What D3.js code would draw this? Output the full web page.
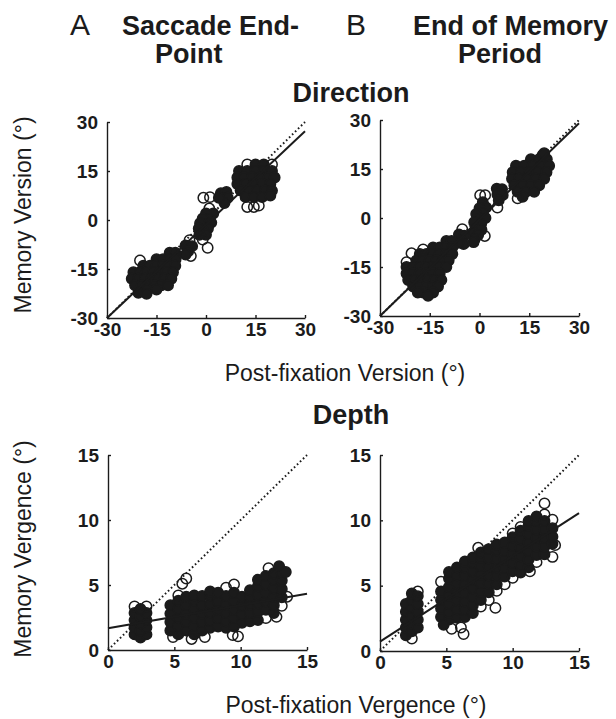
<!DOCTYPE html>
<html>

<head>
  <meta charset="utf-8">
  <title>Memory version and vergence vs post-fixation</title>
  <script src="https://cdn.jsdelivr.net/npm/d3@7/dist/d3.min.js"></script>
  <style>
    body { margin: 0; background: #fff; }
    svg { display: block; font-family: "Liberation Sans", Arial, Helvetica, sans-serif; }
  </style>
</head>

<body>
  <svg id="fig" width="616" height="719"></svg>

  <script>
    // tick values
    const dirTicks = [-30, -15, 0, 15, 30];
    const depTicks = [0, 5, 10, 15];

    // regression fits, [slope, intercept]
    const fitDirSaccade = [0.953, -1.4];
    const fitDirMemory = [0.983, -0.5];
    const fitDepSaccade = [0.177, 1.67];
    const fitDepMemory = [0.655, 0.72];

    // [post-fixation, memory] version, saccade end-point
    const dirSaccade = [
      [12.5, 17], [15, 17], [17.5, 17], [20, 17],
      [10, 15], [12.5, 15], [15, 15], [17.5, 15], [20, 15],
      [9.5, 13], [11.5, 13], [14, 13], [16.5, 13], [19, 13], [20.8, 13],
      [9.5, 11], [12, 11], [14.5, 11], [17, 11], [19.5, 11],
      [10.5, 9], [13, 9], [15.5, 9], [18, 9], [20, 9],
      [12, 7], [14.5, 7], [17, 7],
      [12.5, 4], [14.5, 4], [16, 4.4], [19.5, 7.5],
      [4.5, 8.2], [6.2, 8.6], [5, 6.6], [6.6, 6.8], [5.6, 5.2], [3.9, 6.8],
      [-0.8, 6.8], [1.2, 7],
      [1, 3.5], [2.2, 2], [0, 2], [1, 0.3], [-1, 0.5], [0, -1.2], [-1.8, -1], [1.6, -0.8],
      [0.6, -2.6], [-1, -3], [-2.2, -2.6], [0, -4.5], [-2, -4.5], [-1, -6], [0.5, -8.5],
      [-5, -6.2], [-6.2, -7.8], [-4.2, -8], [-5.4, -9.6], [-4.6, -11], [-6.2, -10.6],
      [-11, -10], [-9.3, -10],
      [-15, -12], [-13, -12], [-11, -12], [-9.2, -12],
      [-19, -14], [-17, -14], [-15, -14], [-13, -14], [-11, -14], [-9.3, -14],
      [-22, -16], [-20, -16], [-18, -16], [-16, -16], [-14, -16], [-12, -16], [-10, -16],
      [-22.5, -18], [-20.5, -18], [-18.5, -18], [-16.5, -18], [-14.5, -18], [-12.5, -18], [-10.5, -18],
      [-21.5, -20], [-19.5, -20], [-17.5, -20], [-15.5, -20], [-13.5, -20], [-11.5, -20],
      [-18, -21.3], [-15, -21.3],
      [-20, -12.4], [-20.5, -22.3], [-18, -22.6]
    ];

    // [post-fixation, memory] version, end of memory period
    const dirMemory = [
      [19, 19.2], [15.5, 18], [18, 18], [20.3, 18],
      [11, 16], [13.5, 16], [16, 16], [18.5, 16], [21, 16],
      [10, 14], [12.5, 14], [15, 14], [17.5, 14], [20.2, 14],
      [9.8, 12], [12, 12], [14.5, 12], [17, 12], [19.5, 12],
      [10.5, 10], [13, 10], [15.5, 10], [18, 10],
      [11.5, 8], [14, 8], [16.5, 8], [13, 6.5],
      [11.5, 6], [19.5, 19.8],
      [5.2, 9], [6.8, 8.8], [5.4, 7.2], [7, 7], [5.8, 5.4], [5.4, 3.2],
      [0.2, 7], [1.7, 7],
      [1, 4.8], [2, 3.2], [0, 3], [1, 1.5], [-1, 1.2], [0, -0.2], [1.8, 0], [-1.6, -1.3],
      [0.5, -1.8], [-1, -3.2], [0.6, -3.6], [-2, -4.6], [-0.4, -5.2], [-1.5, -6.5], [1.6, -5.5],
      [-1.8, -7.4],
      [-5.2, -3.4], [-6.2, -5], [-4.6, -5.4], [-5.6, -6.8], [-4.8, -8], [-6.4, -7.6],
      [-10, -7], [-8.4, -7],
      [-14, -9], [-12, -9], [-10, -9], [-8.2, -9],
      [-18, -11], [-16, -11], [-14, -11], [-12, -11], [-10, -11], [-8.2, -11],
      [-22, -13.5], [-19, -13], [-17, -13], [-15, -13], [-13, -13], [-11, -13], [-9.3, -13],
      [-22, -15], [-20, -15], [-18, -15], [-16, -15], [-14, -15], [-12, -15], [-10, -15],
      [-22, -17], [-20, -17], [-18, -17], [-16, -17], [-14, -17], [-12, -17],
      [-21.5, -19], [-19.5, -19], [-17.5, -19], [-15.5, -19], [-13.5, -19], [-11.5, -19],
      [-20, -21], [-18, -21], [-16, -21], [-14, -21], [-12.5, -21],
      [-17, -22.8], [-14, -22.8],
      [-20.5, -10.8], [-17, -9.6], [-18.6, -22.8], [-15.5, -23.8]
    ];

    // [post-fixation, memory] vergence, saccade end-point
    const depSaccade = [
      [2.0, 1.2], [2.45, 0.95], [2.9, 1.2], [2.0, 1.75], [2.45, 1.5], [2.9, 1.75],
      [2.0, 2.3], [2.45, 2.05], [2.9, 2.3], [2.0, 2.85], [2.45, 2.6], [2.9, 2.85],
      [2.0, 3.35], [2.45, 3.15], [2.9, 3.35],
      [4.7, 1.5], [4.7, 2.15], [4.7, 2.8], [4.7, 3.45],
      [5.3, 1.2], [5.3, 1.85], [5.3, 2.5], [5.3, 3.15], [5.3, 3.8], [5.3, 4.2],
      [5.9, 1.5], [5.9, 2.15], [5.9, 2.8], [5.9, 3.45], [5.9, 4.1],
      [6.5, 1.2], [6.5, 1.85], [6.5, 2.5], [6.5, 3.15], [6.5, 3.8], [6.5, 4.2],
      [7.1, 1.5], [7.1, 2.15], [7.1, 2.8], [7.1, 3.45], [7.1, 4.15],
      [7.7, 1.7], [7.7, 2.25], [7.7, 2.9], [7.7, 3.55], [7.7, 4.2], [7.7, 4.5],
      [8.3, 1.8], [8.3, 2.45], [8.3, 3.1], [8.3, 3.75], [8.3, 4.4],
      [8.9, 1.7], [8.9, 2.2], [8.9, 2.85], [8.9, 3.5], [8.9, 4.15], [8.9, 4.8],
      [9.5, 1.8], [9.5, 2.45], [9.5, 3.1], [9.5, 3.75], [9.5, 4.4], [9.5, 5.05],
      [10.1, 2.1], [10.1, 2.75], [10.1, 3.4], [10.1, 4.1],
      [10.7, 2.2], [10.7, 2.85], [10.7, 3.5], [10.7, 4.15], [10.7, 4.6],
      [11.3, 2.3], [11.3, 2.95], [11.3, 3.6], [11.3, 4.25], [11.3, 4.9], [11.3, 5.4],
      [11.9, 2.45], [11.9, 3.1], [11.9, 3.75], [11.9, 4.4], [11.9, 5.05], [11.9, 5.7],
      [12.5, 2.85], [12.5, 3.45], [12.5, 4.1], [12.5, 4.75], [12.5, 5.4], [12.5, 5.9],
      [13.1, 3.4], [13.1, 4.05], [13.1, 4.7], [13.1, 5.35], [13.1, 5.9],
      [5.9, 5.5], [5.6, 5.1], [4.9, 1.0], [6.3, 0.85], [7.3, 1.0], [9.4, 1.15], [9.8, 1.05],
      [12.7, 2.55], [12.1, 6.3], [12.9, 6.45], [13.4, 6.0], [13.5, 4.1]
    ];

    // [post-fixation, memory] vergence, end of memory period
    const depMemory = [
      [1.95, 1.2], [1.95, 1.8], [1.95, 2.4], [1.95, 3.0], [1.95, 3.6],
      [2.4, 0.95], [2.4, 1.5], [2.4, 2.1], [2.4, 2.7], [2.4, 3.3], [2.4, 3.9], [2.4, 4.4],
      [2.85, 1.8], [2.85, 2.4], [2.85, 3.0], [2.85, 3.6], [2.85, 4.2], [2.85, 4.55],
      [4.6, 2.6], [4.6, 3.25], [4.6, 3.9], [4.6, 4.55], [4.6, 5.3],
      [5.2, 2.4], [5.2, 2.95], [5.2, 3.6], [5.2, 4.25], [5.2, 4.9], [5.2, 5.55], [5.2, 6.05],
      [5.8, 2.55], [5.8, 3.2], [5.8, 3.85], [5.8, 4.5], [5.8, 5.15], [5.8, 5.8], [5.8, 6.4],
      [6.4, 2.6], [6.4, 3.15], [6.4, 3.8], [6.4, 4.45], [6.4, 5.1], [6.4, 5.75], [6.4, 6.4], [6.4, 6.85],
      [7.0, 2.9], [7.0, 3.5], [7.0, 4.15], [7.0, 4.8], [7.0, 5.45], [7.0, 6.1], [7.0, 6.75], [7.0, 7.15],
      [7.6, 3.4], [7.6, 3.9], [7.6, 4.55], [7.6, 5.2], [7.6, 5.85], [7.6, 6.5], [7.6, 7.15], [7.6, 7.55],
      [8.2, 3.9], [8.2, 4.5], [8.2, 5.15], [8.2, 5.8], [8.2, 6.45], [8.2, 7.1], [8.2, 7.8],
      [8.8, 4.6], [8.8, 5.1], [8.8, 5.75], [8.8, 6.4], [8.8, 7.05], [8.8, 7.7], [8.8, 8.15],
      [9.4, 5.1], [9.4, 5.7], [9.4, 6.35], [9.4, 7.0], [9.4, 7.65], [9.4, 8.3],
      [10.0, 5.6], [10.0, 6.1], [10.0, 6.75], [10.0, 7.4], [10.0, 8.05], [10.0, 8.7], [10.0, 9.0],
      [10.6, 6.0], [10.6, 6.6], [10.6, 7.25], [10.6, 7.9], [10.6, 8.55], [10.6, 9.2], [10.6, 9.5],
      [11.2, 6.4], [11.2, 7.0], [11.2, 7.65], [11.2, 8.3], [11.2, 8.95], [11.2, 9.6], [11.2, 9.95],
      [11.8, 6.8], [11.8, 7.35], [11.8, 8.0], [11.8, 8.65], [11.8, 9.3], [11.8, 9.95], [11.8, 10.3],
      [12.4, 7.4], [12.4, 8.0], [12.4, 8.65], [12.4, 9.3], [12.4, 9.95], [12.4, 10.45],
      [13.0, 8.2], [13.0, 8.75], [13.0, 9.4], [13.0, 10.05],
      [12.4, 11.3], [13.2, 8.1], [13.0, 7.2], [8.7, 3.3], [6.3, 1.3], [4.8, 2.0], [5.4, 1.7],
      [6.1, 1.8], [7.4, 7.9], [11.3, 6.1]
    ];

    const ink = "#1b1b1b";
    const svg = d3.select("#fig");

    const panels = [
      { pts: dirSaccade, fit: fitDirSaccade, ticks: dirTicks, left: 107, right: 305, top: 122, bottom: 318 },
      { pts: dirMemory, fit: fitDirMemory, ticks: dirTicks, left: 380, right: 579, top: 120, bottom: 316 },
      { pts: depSaccade, fit: fitDepSaccade, ticks: depTicks, left: 108, right: 307, top: 455, bottom: 650 },
      { pts: depMemory, fit: fitDepMemory, ticks: depTicks, left: 380, right: 579, top: 455, bottom: 651 }
    ];

    panels.forEach(p => {
      const dom = d3.extent(p.ticks);
      const x = d3.scaleLinear().domain(dom).range([p.left, p.right]);
      const y = d3.scaleLinear().domain(dom).range([p.bottom, p.top]);
      const g = svg.append("g");

      // heavily overplotted circles read as solid ink in the original
      const xy = p.pts.map(d => [x(d[0]), y(d[1])]);
      const crowd = xy.map(a => xy.filter(b => b !== a && Math.hypot(a[0] - b[0], a[1] - b[1]) < 9.5).length);

      // unity line
      g.append("line")
        .attr("x1", x(dom[0])).attr("y1", y(dom[0]))
        .attr("x2", x(dom[1])).attr("y2", y(dom[1]))
        .attr("stroke", ink)
        .attr("stroke-width", 2)
        .attr("stroke-dasharray", "1.6,2.6");

      g.append("g")
        .selectAll("circle")
        .data(p.pts)
        .join("circle")
        .attr("cx", d => x(d[0]))
        .attr("cy", d => y(d[1]))
        .attr("r", 5.2)
        .attr("fill", (d, i) => crowd[i] >= 3 ? ink : "none")
        .attr("stroke", ink)
        .attr("stroke-width", 1.5);

      // regression line
      const [m, b] = p.fit;
      g.append("line")
        .attr("x1", x(dom[0])).attr("y1", y(m * dom[0] + b))
        .attr("x2", x(dom[1])).attr("y2", y(m * dom[1] + b))
        .attr("stroke", ink)
        .attr("stroke-width", 2);

      const xAxis = g.append("g")
        .attr("transform", `translate(0,${p.bottom})`)
        .call(d3.axisBottom(x).tickValues(p.ticks).tickFormat(String)
          .tickSizeInner(-3).tickSizeOuter(0).tickPadding(5));
      const yAxis = g.append("g")
        .attr("transform", `translate(${p.left},0)`)
        .call(d3.axisLeft(y).tickValues(p.ticks).tickFormat(String)
          .tickSizeInner(-3).tickSizeOuter(0).tickPadding(9));

      [xAxis, yAxis].forEach(a => {
        a.attr("font-family", null).attr("font-size", null);
        a.selectAll("path, line").attr("stroke", ink).attr("stroke-width", 1.4);
        a.selectAll("text")
          .attr("fill", ink)
          .style("font-size", "19px")
          .style("font-weight", "bold");
      });
    });

    // headings and axis titles
    const text = (str, x, y, size, weight, anchor) => svg.append("text")
      .attr("x", x).attr("y", y)
      .attr("fill", ink)
      .attr("text-anchor", anchor || "start")
      .style("font-size", size + "px")
      .style("font-weight", weight)
      .text(str);

    text("A", 70, 35, 30, "normal");
    text("Saccade End-", 122, 35, 27, "bold");
    text("Point", 155, 63, 27, "bold");
    text("B", 346, 35, 30, "normal");
    text("End of Memory", 413, 35, 27, "bold");
    text("Period", 458, 63, 27, "bold");
    text("Direction", 351, 102, 27, "bold", "middle");
    text("Depth", 351, 424, 27, "bold", "middle");
    text("Post-fixation Version (°)", 345, 381, 23, "normal", "middle");
    text("Post-fixation Vergence (°)", 356, 713, 23, "normal", "middle");
    text("Memory Version (°)", 0, 0, 23, "normal", "middle")
      .attr("transform", "translate(31,215) rotate(-90)");
    text("Memory Vergence (°)", 0, 0, 23, "normal", "middle")
      .attr("transform", "translate(31,549) rotate(-90)");
  </script>
</body>

</html>
